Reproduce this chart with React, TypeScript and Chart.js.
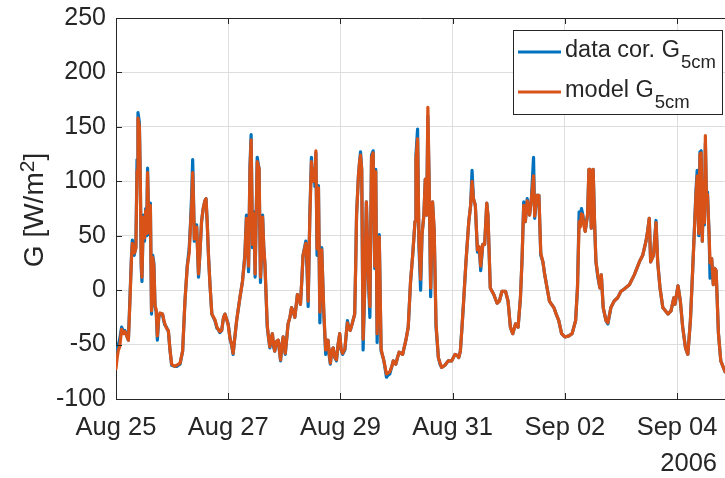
import { useEffect, useRef } from 'react';
import { Chart, registerables } from 'chart.js';

Chart.register(...registerables);

// Time axis: hours since 25 Aug 2006 00:00
const hours = [
  0, 0.5, 1, 1.6, 2.4, 3.2, 3.8, 4.6, 5.3, 6, 6.6, 7, 7.5, 7.8, 8.5, 9.0, 9.4, 10, 10.4, 10.8,
  11.1, 11.7, 12.2, 12.7, 13.1, 13.5, 14.1, 14.7, 15.2, 15.7, 16.2, 16.7, 17.2, 17.7, 18.3, 18.8, 19.9, 20.4, 20.9, 21.6,
  22.4, 23.1, 23.8, 25, 26, 27.4, 28.5, 29.5, 30.5, 31.3, 31.9, 32.4, 32.8, 33.2, 33.5, 34.5, 35.3, 35.8, 36.6, 37.3,
  38, 38.5, 39, 39.6, 40.2, 41, 42.3, 43.2, 43.7, 44.4, 45.2, 46, 46.6, 47.2, 48, 48.8, 49.4, 50.1, 51, 51.6,
  53, 54.1, 55.1, 55.8, 56.2, 56.7, 57.3, 57.8, 58.4, 59, 59.5, 60.4, 61.2, 61.8, 62.2, 62.7, 63.2, 63.7, 64.7, 65.3,
  65.8, 66.3, 66.9, 67.4, 67.9, 68.6, 69.4, 70.4, 71, 71.5, 72.4, 73, 73.6, 74.4, 75.1, 75.8, 76.5, 77.6, 78.3, 78.9,
  79.5, 80, 81.2, 81.7, 82.2, 82.9, 83.6, 84.1, 84.6, 85.1, 85.5, 86, 86.6, 87.2, 88, 88.9, 89.7, 90.2, 90.7, 91.2,
  91.7, 92.3, 92.9, 93.6, 94.3, 95, 95.7, 96.3, 96.9, 97.9, 98.5, 99, 99.6, 100.2, 101, 102.1, 102.5, 102.9, 103.7, 104.2,
  104.6, 105.1, 105.7, 106.4, 107.1, 108, 108.6, 109.3, 110, 110.7, 111.1, 111.7, 112.6, 113.4, 114, 114.6, 115.7, 116.4, 117.1, 118,
  118.6, 119.7, 120.4, 121.1, 122.6, 124, 125, 126, 126.9, 127.9, 128.3, 129, 129.6, 130.3, 130.9, 131.7, 132.3, 132.9, 133.4, 134,
  134.6, 135.4, 136.1, 136.9, 137.9, 138.6, 139.3, 140.7, 142.1, 143.6, 145, 146, 146.6, 147.3, 148, 148.7, 149.7, 150.9, 151.7, 152.3,
  152.9, 153.7, 154.6, 155.4, 156, 156.9, 157.7, 158.6, 159.1, 160.1, 161.6, 163, 164, 165.1, 166.6, 167.7, 168.7, 169.7, 170.9, 172,
  173, 173.7, 174.4, 175.1, 175.9, 176.9, 177.7, 178.6, 179.1, 180, 180.9, 181.7, 182.6, 183.4, 184.4, 185.4, 186.3, 187.3, 188.3, 189.4,
  190.6, 192, 193.7, 195.1, 196.6, 197.4, 198.1, 198.6, 199.1, 199.6, 200.1, 200.7, 201.7, 202.3, 202.7, 203.3, 204.1, 204.7, 205.3, 206.1,
  207, 207.6, 208.4, 209.6, 210.4, 211.7, 213.1, 214.6, 216, 217.4, 219.6, 221.7, 223.9, 225.3, 226.7, 227.4, 228.1, 228.7, 229.9, 231,
  231.7, 232.7, 233.9, 235, 236.1, 237.4, 238.6, 239.1, 240.4, 241.4, 242.4, 243.6, 244.6, 245.7, 246.7, 248.1, 248.6, 249.3, 249.8, 250.3,
  250.8, 251.3, 251.7, 252.1, 252.6, 253, 253.7, 254.1, 254.8, 255.5, 256.1, 256.7, 257.7, 258.7, 260.5,
];

// Measured (corrected) soil heat flux at 5 cm, W/m²
const dataCor = [
  -68, -55, -50, -45, -34, -38, -37, -42, -46, -5, 30, 46, 38, 32, 40, 120, 163, 154, 100, 20,
  8, 69, 45, 75, 50, 112, 51, 80, -22, 32, 25, -15, -20, -46, -25, -22, -22, -28, -32, -34,
  -38, -55, -69, -70, -70, -68, -56, -10, 23, 38, 63, 90, 120, 80, 45, 60, 12, 30, 63, 75,
  82, 84, 63, 30, 5, -22, -28, -35, -36, -39, -37, -25, -22, -26, -31, -45, -50, -59, -40, -28,
  -7, 8, 32, 69, 50, 17, 114, 143, 39, 72, 12, 122, 111, 7, 30, 69, 40, 23, -34, -45,
  -53, -45, -40, -52, -56, -48, -46, -65, -50, -43, -59, -45, -31, -25, -16, -20, -25, -4, -8, -13,
  10, 32, 45, 20, -15, 69, 122, 100, 111, 95, 126, 32, 96, -30, 39, -22, -59, -50, -46, -60,
  -68, -55, -53, -62, -65, -50, -40, -55, -59, -55, -40, -28, -35, -37, -31, -22, 20, 69, 105, 118,
  127, 111, -55, 2, 81, 8, -25, 124, 128, 20, 111, -48, 51, -56, -60, -65, -80, -78, -77, -70,
  -65, -68, -62, -57, -59, -46, -34, 8, 32, 63, 124, 148, 39, 0, 51, 69, 102, 69, 160, 93,
  -6, 81, 54, -34, -62, -68, -71, -69, -65, -65, -59, -60, -62, -56, -34, -10, 26, 63, 78, 110,
  84, 78, 35, 39, 18, 42, 42, 80, 69, 2, -4, -12, -10, -1, -1, -10, -34, -40, -31, -34,
  -7, 29, 81, 63, 84, 69, 84, 122, 66, 87, 87, 32, 26, 14, 2, -10, -13, -16, -22, -28,
  -40, -43, -42, -40, -28, 2, 72, 60, 75, 70, 63, 54, 69, 111, 111, 57, 111, 63, 26, 12,
  2, 14, -16, -28, -31, -16, -10, -7, -1, 1, 5, 14, 26, 32, 45, 54, 66, 26, 32, 64,
  26, 2, -16, -19, -22, -19, -7, -13, 4, -10, -34, -53, -59, -28, 20, 92, 110, 50, 127, 128,
  45, 100, 60, 135, 81, 90, 51, 11, 29, 5, 20, 18, -40, -65, -75,
];

// Modelled soil heat flux at 5 cm, W/m²
const modelG = [
  -72, -62, -55, -52, -36, -40, -38, -42, -46, -8, 28, 43, 36, 34, 38, 110, 158, 150, 102, 25,
  12, 67, 48, 73, 52, 108, 53, 78, -19, 30, 22, -14, -18, -42, -24, -21, -22, -27, -31, -35,
  -37, -55, -68, -70, -69, -67, -56, -10, 22, 34, 60, 80, 108, 78, 47, 58, 15, 30, 63, 75,
  82, 84, 63, 30, 5, -22, -27, -34, -36, -38, -37, -25, -22, -26, -32, -45, -49, -58, -40, -28,
  -7, 8, 30, 66, 55, 22, 110, 138, 42, 70, 15, 118, 112, 12, 30, 67, 40, 25, -32, -44,
  -52, -45, -40, -50, -56, -47, -46, -64, -50, -43, -58, -45, -31, -25, -16, -20, -25, -4, -8, -13,
  10, 32, 43, 25, -10, 66, 118, 100, 110, 100, 128, 38, 94, -20, 37, -20, -55, -50, -46, -58,
  -67, -55, -53, -62, -64, -50, -40, -54, -58, -54, -40, -30, -35, -37, -31, -22, 20, 69, 105, 118,
  124, 111, -45, 2, 81, 10, -15, 122, 126, 22, 109, -40, 49, -54, -60, -65, -77, -76, -75, -70,
  -65, -68, -62, -57, -59, -46, -34, 8, 32, 63, 120, 139, 45, 10, 51, 69, 102, 69, 168, 93,
  2, 81, 56, -31, -62, -67, -71, -69, -65, -65, -59, -60, -62, -56, -34, -10, 26, 63, 78, 100,
  84, 78, 37, 40, 22, 42, 42, 80, 69, 2, -4, -12, -10, -1, -1, -10, -34, -40, -31, -34,
  -7, 29, 78, 63, 82, 69, 84, 105, 68, 87, 87, 34, 26, 14, 2, -10, -13, -16, -22, -28,
  -40, -43, -42, -40, -28, 2, 63, 58, 70, 69, 60, 54, 69, 111, 111, 57, 111, 63, 26, 14,
  2, 14, -16, -28, -30, -16, -10, -7, -1, 1, 5, 14, 26, 32, 45, 54, 66, 26, 32, 62,
  26, 2, -16, -19, -22, -19, -7, -13, 4, -10, -34, -53, -59, -28, 20, 88, 105, 52, 125, 126,
  45, 100, 62, 142, 81, 88, 51, 25, 29, 5, 20, 18, -40, -65, -75,
];

const tickHours = [0, 48, 96, 144, 192, 240];
const tickLabels = ['Aug 25', 'Aug 27', 'Aug 29', 'Aug 31', 'Sep 02', 'Sep 04'];
const yearLabel = '2006';
const xMaxHours = 260.5;
const yMin = -100;
const yMax = 250;
const yStep = 50;

const seriesNames = ['data cor. G', 'model G'];
const seriesSub = '5cm';
const yTitleMain = 'G [W/m';
const yTitleSup = '2';
const yTitleEnd = ']';

const BLUE = '#0072BD';
const ORANGE = '#D95319';
const AXIS = '#262626';
const GRID = '#dedede';
const FONT = '"Liberation Sans", Arial, Helvetica, sans-serif';

const decorations = {
  id: 'decorations',
  afterDraw(chart: any) {
    const { ctx, chartArea, scales } = chart;
    const { left, right, top, bottom } = chartArea;
    ctx.save();

    // top box edge
    ctx.strokeStyle = AXIS;
    ctx.lineWidth = 1;
    ctx.beginPath();
    ctx.moveTo(left, top + 0.5);
    ctx.lineTo(right, top + 0.5);
    ctx.stroke();

    // inward tick marks
    ctx.beginPath();
    for (const h of tickHours) {
      const x = Math.round(scales.x.getPixelForValue(h)) + 0.5;
      ctx.moveTo(x, bottom);
      ctx.lineTo(x, bottom - 6);
      ctx.moveTo(x, top);
      ctx.lineTo(x, top + 6);
    }
    for (let v = yMin; v <= yMax; v += yStep) {
      const y = Math.round(scales.y.getPixelForValue(v)) + 0.5;
      ctx.moveTo(left, y);
      ctx.lineTo(left + 6, y);
    }
    ctx.stroke();

    ctx.fillStyle = AXIS;

    // y-axis title with superscript, reading bottom to top
    ctx.save();
    ctx.translate(43, 210);
    ctx.rotate(-Math.PI / 2);
    ctx.textBaseline = 'alphabetic';
    ctx.textAlign = 'left';
    const mainFont = `28px ${FONT}`;
    const supFont = `21px ${FONT}`;
    ctx.font = mainFont;
    const w1 = ctx.measureText(yTitleMain).width;
    const w3 = ctx.measureText(yTitleEnd).width;
    ctx.font = supFont;
    const w2 = ctx.measureText(yTitleSup).width;
    let tx = -(w1 + w2 + w3) / 2;
    ctx.font = mainFont;
    ctx.fillText(yTitleMain, tx, 0);
    tx += w1;
    ctx.font = supFont;
    ctx.fillText(yTitleSup, tx, -9);
    tx += w2;
    ctx.font = mainFont;
    ctx.fillText(yTitleEnd, tx, 0);
    ctx.restore();

    // year label under the last date tick
    ctx.font = `25.5px ${FONT}`;
    ctx.textAlign = 'right';
    ctx.textBaseline = 'alphabetic';
    ctx.fillText(yearLabel, 717, 471);

    // legend
    const bx = 513, by = 30, bw = 209, bh = 84;
    ctx.fillStyle = '#ffffff';
    ctx.fillRect(bx, by, bw, bh);
    ctx.strokeStyle = AXIS;
    ctx.lineWidth = 1;
    ctx.strokeRect(bx + 0.5, by + 0.5, bw, bh);
    const rows = [
      { color: BLUE, y: 52 },
      { color: ORANGE, y: 92 },
    ];
    rows.forEach((r, i) => {
      ctx.strokeStyle = r.color;
      ctx.lineWidth = 3;
      ctx.beginPath();
      ctx.moveTo(518, r.y);
      ctx.lineTo(561, r.y);
      ctx.stroke();
      ctx.fillStyle = AXIS;
      ctx.textAlign = 'left';
      ctx.textBaseline = 'alphabetic';
      ctx.font = `23.5px ${FONT}`;
      const base = r.y + 5;
      ctx.fillText(seriesNames[i], 565, base);
      const w = ctx.measureText(seriesNames[i]).width;
      ctx.font = `18.5px ${FONT}`;
      ctx.fillText(seriesSub, 565 + w + 1, base + 11);
    });

    ctx.restore();
  },
};

export default function App() {
  const canvasRef = useRef<HTMLCanvasElement | null>(null);

  useEffect(() => {
    if (!canvasRef.current) return;
    const chart = new Chart(canvasRef.current, {
      type: 'line',
      data: {
        datasets: [
          {
            label: seriesNames[0],
            data: hours.map((h, i) => ({ x: h, y: dataCor[i] })),
            borderColor: BLUE,
            borderWidth: 3.2,
            pointRadius: 0,
            tension: 0,
            fill: false,
            order: 1,
          },
          {
            label: seriesNames[1],
            data: hours.map((h, i) => ({ x: h, y: modelG[i] })),
            borderColor: ORANGE,
            borderWidth: 3.2,
            pointRadius: 0,
            tension: 0,
            fill: false,
            order: 0,
          },
        ],
      },
      options: {
        responsive: false,
        animation: false,
        devicePixelRatio: 1,
        layout: { padding: { top: 18, left: 0, right: 0, bottom: 0 } },
        plugins: {
          legend: { display: false },
          tooltip: { enabled: false },
        },
        elements: { line: { borderJoinStyle: 'round', borderCapStyle: 'round' } },
        scales: {
          x: {
            type: 'linear',
            min: 0,
            max: xMaxHours,
            afterBuildTicks: (axis: any) => {
              axis.ticks = tickHours.map((v) => ({ value: v }));
            },
            afterFit: (axis: any) => {
              axis.height = 79;
              axis.paddingLeft = 0;
              axis.paddingRight = 0;
            },
            grid: { color: GRID, lineWidth: 1, drawTicks: false },
            border: { display: true, color: AXIS, width: 1 },
            ticks: {
              autoSkip: false,
              maxRotation: 0,
              padding: 14,
              color: AXIS,
              font: { family: FONT, size: 25.5 },
              callback: (v: any) => {
                const i = tickHours.indexOf(Number(v));
                return i >= 0 ? tickLabels[i] : '';
              },
            },
          },
          y: {
            type: 'linear',
            min: yMin,
            max: yMax,
            afterFit: (axis: any) => {
              axis.width = 116;
              axis.paddingTop = 0;
              axis.paddingBottom = 0;
            },
            grid: { color: GRID, lineWidth: 1, drawTicks: false },
            border: { display: true, color: AXIS, width: 1 },
            ticks: {
              stepSize: yStep,
              padding: 10,
              color: AXIS,
              font: { family: FONT, size: 25 },
            },
          },
        },
      },
      plugins: [decorations],
    });
    return () => chart.destroy();
  }, []);

  return (
    <div style={{ position: 'fixed', left: 0, top: 0, width: 725, height: 478, background: '#fff' }}>
      <canvas ref={canvasRef} width={725} height={478} style={{ display: 'block' }} />
    </div>
  );
}
